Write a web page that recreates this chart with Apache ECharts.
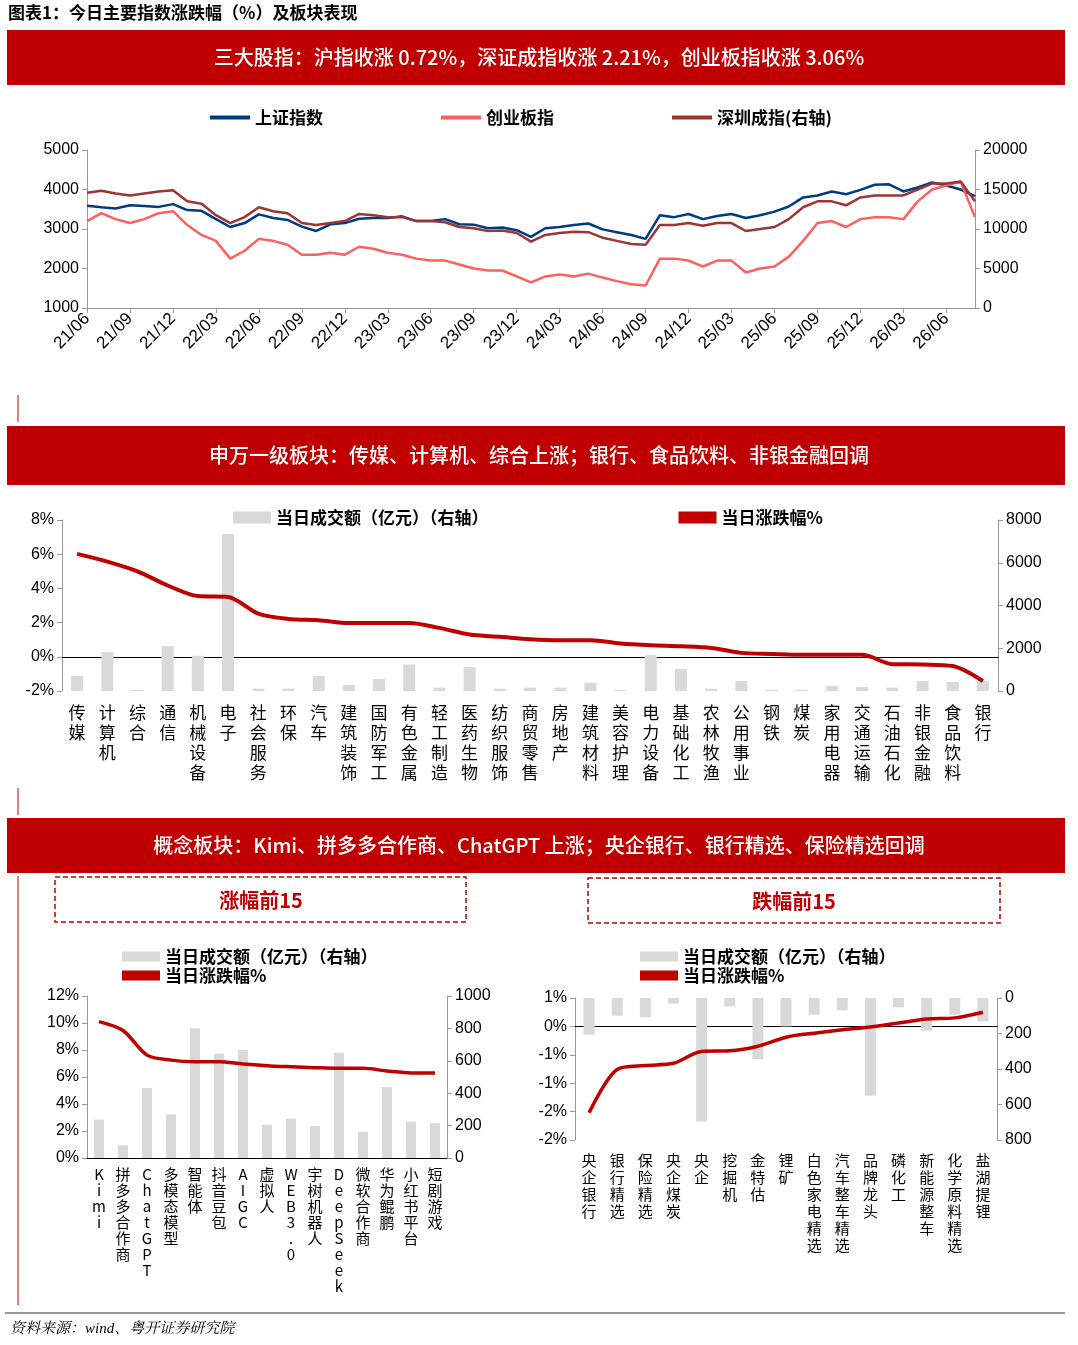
<!DOCTYPE html>
<html><head><meta charset="utf-8">
<script src="https://cdn.jsdelivr.net/npm/echarts@6/dist/echarts.min.js"></script>
<style>html,body{margin:0;padding:0;background:#fff}#c{width:1078px;height:1345px}</style>
</head><body><div id="c"></div>
<script>
// ---------- DATA ----------
const months = ['21/06','21/07','21/08','21/09','21/10','21/11','21/12','22/01','22/02','22/03','22/04','22/05','22/06','22/07','22/08','22/09','22/10','22/11','22/12','23/01','23/02','23/03','23/04','23/05','23/06','23/07','23/08','23/09','23/10','23/11','23/12','24/01','24/02','24/03','24/04','24/05','24/06','24/07','24/08','24/09','24/10','24/11','24/12','25/01','25/02','25/03','25/04','25/05','25/06','25/07','25/08','25/09','25/10','25/11','25/12','26/01','26/02','26/03','26/04','26/05','26/06','26/07','26/08'];
const shIndex = [3590,3550,3520,3600,3580,3560,3630,3480,3460,3250,3050,3150,3370,3280,3230,3060,2950,3120,3150,3260,3280,3280,3320,3200,3200,3250,3120,3110,3020,3040,2970,2800,3020,3050,3100,3140,2990,2920,2850,2750,3350,3300,3380,3250,3330,3380,3280,3350,3440,3570,3800,3850,3950,3880,3990,4120,4130,3950,4050,4180,4100,4000,3830];
const cyIndex = [3200,3400,3250,3150,3250,3400,3450,3100,2850,2700,2250,2450,2750,2700,2600,2350,2350,2400,2350,2550,2500,2400,2350,2250,2200,2200,2100,2000,1950,1950,1800,1650,1800,1850,1800,1870,1770,1680,1600,1570,2250,2250,2200,2050,2200,2200,1900,2000,2050,2300,2700,3150,3200,3050,3250,3300,3300,3250,3700,4000,4100,4200,3300];
const szIndex = [14600,14850,14500,14250,14500,14750,14900,13500,13200,11750,10750,11500,12750,12250,12000,10750,10500,10750,11000,11900,11750,11500,11500,11000,11000,10850,10250,10100,9750,9800,9500,8400,9250,9500,9650,9600,8900,8500,8100,8000,10500,10500,10750,10400,10750,10750,9750,10000,10250,11250,12750,13500,13500,13000,14000,14250,14250,14250,15000,15750,15750,16000,13500];

const swCats = ['传媒','计算机','综合','通信','机械设备','电子','社会服务','环保','汽车','建筑装饰','国防军工','有色金属','轻工制造','医药生物','纺织服饰','商贸零售','房地产','建筑材料','美容护理','电力设备','基础化工','农林牧渔','公用事业','钢铁','煤炭','家用电器','交通运输','石油石化','非银金融','食品饮料','银行'];
const swChg = [6.02,5.57,5.0,4.17,3.55,3.5,2.52,2.21,2.14,1.98,1.98,1.98,1.69,1.30,1.17,1.03,0.97,0.97,0.78,0.68,0.62,0.52,0.23,0.17,0.12,0.12,0.12,-0.43,-0.45,-0.54,-1.42];
const swAmt = [700,1817,47,2096,1646,7345,109,109,699,280,559,1242,155,1118,109,155,155,388,47,1677,1025,109,466,62,62,248,186,155,466,419,466];

const upCats = ['Kimi','拼多多合作商','ChatGPT','多模态模型','智能体','抖音豆包','AIGC','虚拟人','WEB3.0','宇树机器人','DeepSeek','微软合作商','华为鲲鹏','小红书平台','短剧游戏'];
const upChg = [10.1,9.44,7.62,7.25,7.13,7.13,6.96,6.84,6.76,6.69,6.64,6.64,6.45,6.30,6.30];
const upAmt = [237,79,432,268,801,643,667,205,243,197,649,162,438,225,215];

const dnCats = ['央企银行','银行精选','保险精选','央企煤炭','央企','挖掘机','金特估','锂矿','白色家电精选','汽车整车精选','品牌龙头','磷化工','新能源整车','化学原料精选','盐湖提锂'];
const dnChg = [-1.52,-0.76,-0.69,-0.65,-0.44,-0.43,-0.35,-0.19,-0.12,-0.06,-0.01,0.06,0.13,0.15,0.25];
const dnAmt = [207,100,109,32,696,47,343,160,94,70,550,53,184,94,132];

// ---------- CHART ----------
const chart = echarts.init(document.getElementById('c'));
const CJK = '"Noto Sans CJK SC", sans-serif';
const NUM = '"Liberation Sans", Arial, sans-serif';
const RED = '#c00000', BAR = '#d9d9d9', AX = '#999';
const vert = v => v.split('').join('\n');
const plain = v => String(v);
const valAx = (o) => Object.assign({type:'value', splitLine:{show:false},
  axisLine:{show:true,lineStyle:{color:AX}}, axisTick:{show:true,length:5,lineStyle:{color:AX}},
  axisLabel:{color:'#000',fontFamily:NUM,fontSize:16,formatter:plain}}, o);

function banner(y, h, txt){
  return [
    {type:'rect',shape:{x:7,y:y,width:1058,height:h},style:{fill:'#c00000'}},
    {type:'text',x:539,y:y+h/2,style:{text:txt,fill:'#fff',font:'500 20px '+CJK,align:'center',verticalAlign:'middle'}}
  ];
}
const legText = {fontFamily:CJK,fontSize:17,fontWeight:'bold',color:'#000'};

const option = {
  animation:false,
  graphic:[
    {type:'text',x:8,y:4,style:{text:'图表1：今日主要指数涨跌幅（%）及板块表现',fill:'#000',font:'bold 17px '+CJK}},
    ...banner(30,55,'三大股指：沪指收涨 0.72%，深证成指收涨 2.21%，创业板指收涨 3.06%'),
    ...banner(426,59,'申万一级板块：传媒、计算机、综合上涨；银行、食品饮料、非银金融回调'),
    ...banner(818,55,'概念板块：Kimi、拼多多合作商、ChatGPT 上涨；央企银行、银行精选、保险精选回调'),
    {type:'line',shape:{x1:18,y1:395,x2:18,y2:422},style:{stroke:RED,lineWidth:1}},
    {type:'line',shape:{x1:18,y1:788,x2:18,y2:815},style:{stroke:RED,lineWidth:1}},
    {type:'line',shape:{x1:18,y1:876,x2:18,y2:1305},style:{stroke:RED,lineWidth:1}},
    {type:'rect',shape:{x:55,y:877,width:411,height:45},style:{fill:'none',stroke:RED,lineWidth:1.5,lineDash:[5,3]}},
    {type:'text',x:261,y:900,style:{text:'涨幅前15',fill:RED,font:'bold 20px '+CJK,align:'center',verticalAlign:'middle'}},
    {type:'rect',shape:{x:588,y:878,width:412,height:45},style:{fill:'none',stroke:RED,lineWidth:1.5,lineDash:[5,3]}},
    {type:'text',x:794,y:901,style:{text:'跌幅前15',fill:RED,font:'bold 20px '+CJK,align:'center',verticalAlign:'middle'}},
    {type:'line',shape:{x1:5,y1:1313,x2:1065,y2:1313},style:{stroke:'#333',lineWidth:1}},
    {type:'text',x:10,y:1322,style:{text:'资料来源：wind、粤开证券研究院',fill:'#000',font:'italic 15px "Liberation Serif", "Noto Serif CJK SC", serif'}}
  ],
  legend:[
    {left:205,top:104,itemGap:118,itemWidth:40,itemHeight:4,textStyle:legText,icon:'rect',data:['上证指数','创业板指','深圳成指(右轴)']},
    {left:228,top:504,itemGap:190,itemWidth:38,itemHeight:12,textStyle:legText,data:[{name:'当日成交额（亿元）（右轴）',icon:'rect'},{name:'当日涨跌幅%',icon:'rect',itemStyle:{color:RED}}],selectedMode:false},
    {left:117,top:943,orient:'vertical',itemGap:2,itemWidth:38,itemHeight:10,textStyle:legText,data:[{name:'当日成交额（亿元）（右轴）',icon:'rect'},{name:'当日涨跌幅%',icon:'rect'}],selectedMode:false},
    {left:635,top:943,orient:'vertical',itemGap:2,itemWidth:38,itemHeight:10,textStyle:legText,data:[{name:'当日成交额（亿元）（右轴）',icon:'rect'},{name:'当日涨跌幅%',icon:'rect'}],selectedMode:false}
  ],
  grid:[
    {left:87,top:150,width:888,height:158},
    {left:62,top:520,width:936,height:171},
    {left:87,top:996,width:360,height:162},
    {left:575,top:998,width:422,height:142}
  ],
  xAxis:[
    {gridIndex:0,type:'category',data:months,boundaryGap:false,
      axisLine:{lineStyle:{color:AX}},axisTick:{interval:2,length:5,lineStyle:{color:AX}},
      axisLabel:{interval:2,rotate:45,color:'#000',fontFamily:NUM,fontSize:17,margin:8}},
    {gridIndex:1,type:'category',data:swCats,position:'bottom',axisLine:{show:false,onZero:false},axisTick:{show:false},
      axisLabel:{interval:0,formatter:vert,color:'#000',fontFamily:CJK,fontSize:17,lineHeight:20,verticalAlign:'top',margin:12}},
    {gridIndex:1,type:'category',data:swCats,axisLine:{show:true,onZero:true,lineStyle:{color:'#000'}},axisTick:{interval:2,length:5,lineStyle:{color:'#000'}},axisLabel:{show:false}},
    {gridIndex:2,type:'category',data:upCats,axisLine:{lineStyle:{color:'#000'}},axisTick:{interval:2,length:5,lineStyle:{color:'#000'}},
      axisLabel:{interval:0,formatter:vert,color:'#000',fontFamily:CJK,fontSize:15,lineHeight:16,verticalAlign:'top',margin:8}},
    {gridIndex:3,type:'category',data:dnCats,position:'bottom',axisLine:{show:false,onZero:false},axisTick:{show:false},
      axisLabel:{interval:0,formatter:vert,color:'#000',fontFamily:CJK,fontSize:15,lineHeight:17,verticalAlign:'top',margin:12}},
    {gridIndex:3,type:'category',data:dnCats,axisLine:{show:true,onZero:true,lineStyle:{color:'#000'}},axisTick:{interval:2,length:5,lineStyle:{color:'#000'}},axisLabel:{show:false}}
  ],
  yAxis:[
    valAx({gridIndex:0,min:1000,max:5000,interval:1000}),
    valAx({gridIndex:0,min:0,max:20000,interval:5000,position:'right'}),
    valAx({gridIndex:1,min:-2,max:8,interval:2,axisLabel:{color:'#000',fontFamily:NUM,fontSize:16,formatter:v=>v+'%'}}),
    valAx({gridIndex:1,min:0,max:8000,interval:2000,position:'right'}),
    valAx({gridIndex:2,min:0,max:12,interval:2,axisLabel:{color:'#000',fontFamily:NUM,fontSize:16,formatter:v=>v+'%'}}),
    valAx({gridIndex:2,min:0,max:1000,interval:200,position:'right'}),
    valAx({gridIndex:3,min:-2,max:0.5,interval:0.5,axisLabel:{color:'#000',fontFamily:NUM,fontSize:16,formatter:v=>((v<0?-1:1)*Math.round(Math.abs(v)))+'%'}}),
    valAx({gridIndex:3,min:0,max:800,interval:200,position:'right',inverse:true})
  ],
  series:[
    {name:'上证指数',type:'line',xAxisIndex:0,yAxisIndex:0,data:shIndex,symbol:'none',color:'#003a80',lineStyle:{width:2.5}},
    {name:'创业板指',type:'line',xAxisIndex:0,yAxisIndex:0,data:cyIndex,symbol:'none',color:'#ff5f5f',lineStyle:{width:2.5}},
    {name:'深圳成指(右轴)',type:'line',xAxisIndex:0,yAxisIndex:1,data:szIndex,symbol:'none',color:'#9c3535',lineStyle:{width:2.5}},
    {name:'当日成交额（亿元）（右轴）',type:'bar',xAxisIndex:1,yAxisIndex:3,data:swAmt,color:BAR,barWidth:12},
    {name:'当日涨跌幅%',type:'line',xAxisIndex:1,yAxisIndex:2,data:swChg,symbol:'none',smooth:0.3,color:RED,lineStyle:{width:4},z:5},
    {name:'当日成交额（亿元）（右轴）',type:'bar',xAxisIndex:3,yAxisIndex:5,data:upAmt,color:BAR,barWidth:10},
    {name:'当日涨跌幅%',type:'line',xAxisIndex:3,yAxisIndex:4,data:upChg,symbol:'none',smooth:0.3,color:RED,lineStyle:{width:3.5},z:5},
    {name:'当日成交额（亿元）（右轴）',type:'bar',xAxisIndex:4,yAxisIndex:7,data:dnAmt,color:BAR,barWidth:11},
    {name:'当日涨跌幅%',type:'line',xAxisIndex:4,yAxisIndex:6,data:dnChg,symbol:'none',smooth:0.3,color:RED,lineStyle:{width:3.5},z:5}
  ]
};
chart.setOption(option);
</script></body></html>
